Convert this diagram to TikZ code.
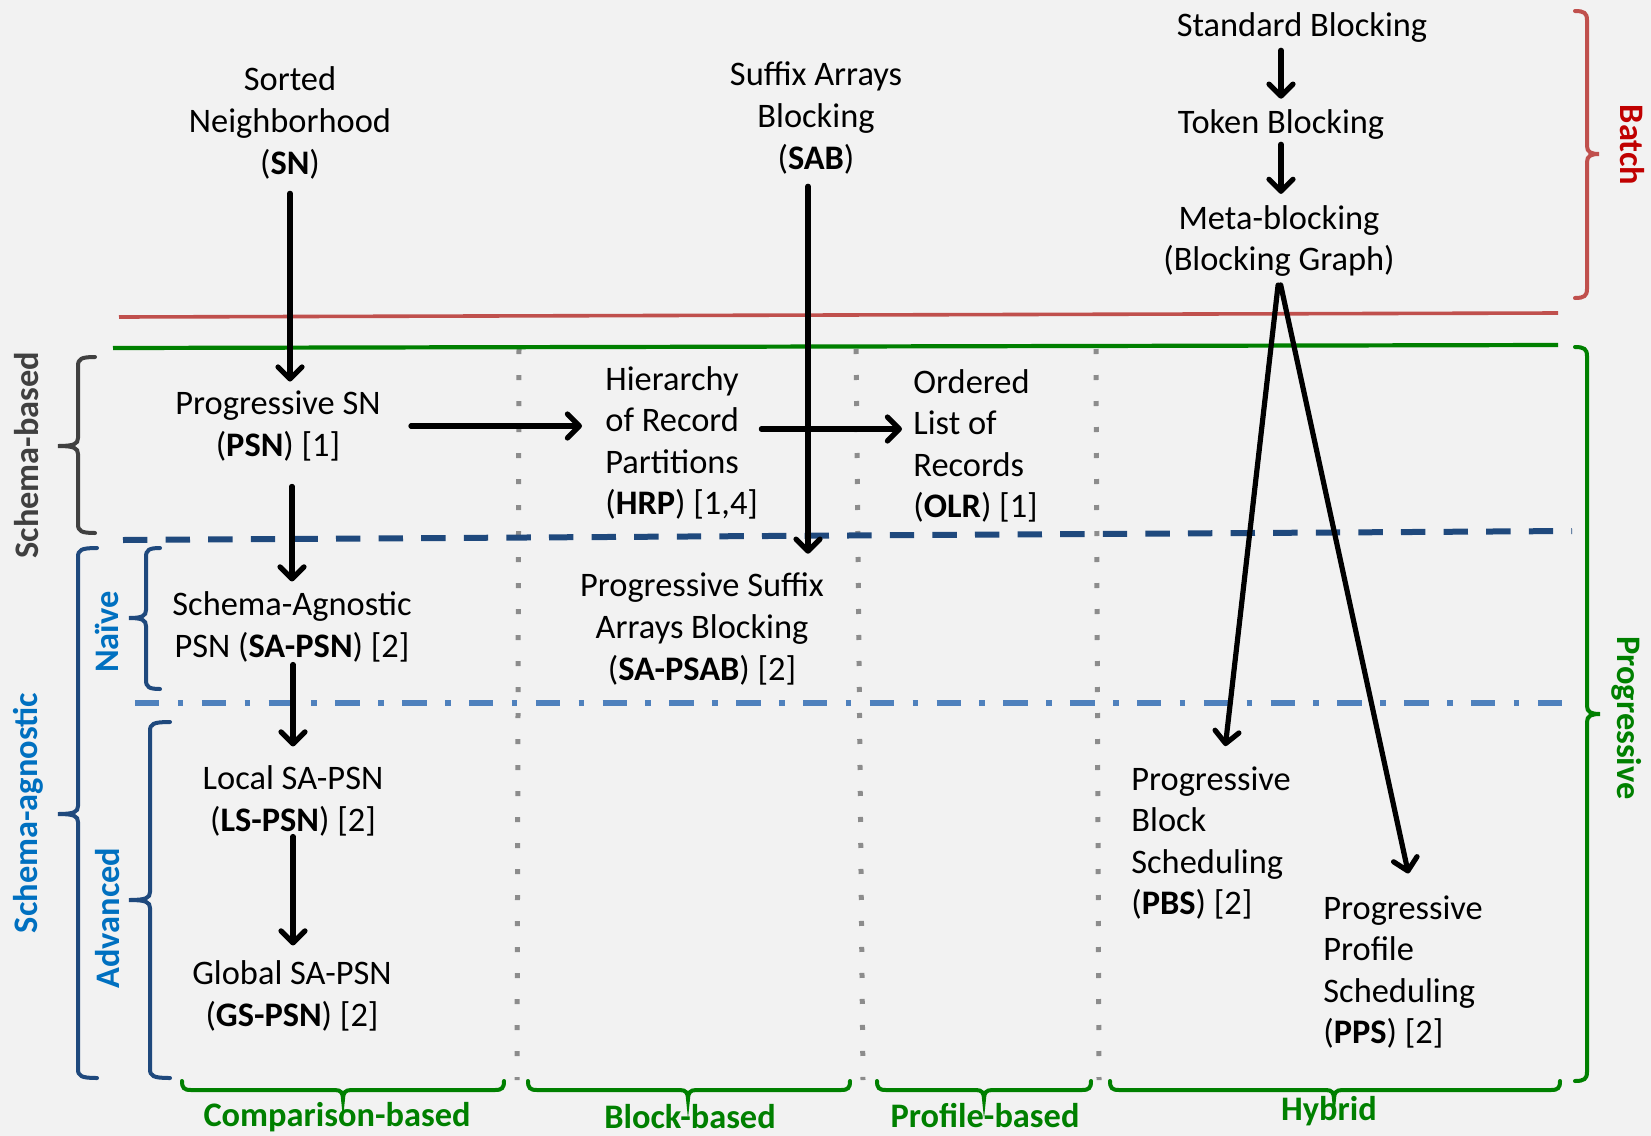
\documentclass[tikz,border=0pt]{standalone}
\usepackage{fontspec}
\setmainfont{Carlito}
\usetikzlibrary{arrows.meta}

\definecolor{bgcol}{HTML}{F2F2F2}
\definecolor{batchline}{HTML}{C0504D}
\definecolor{batchtxt}{HTML}{C00000}
\definecolor{progreen}{HTML}{008000}
\definecolor{navyline}{HTML}{1F497D}
\definecolor{lightnavy}{HTML}{4F81BD}
\definecolor{agblue}{HTML}{0070C0}
\definecolor{sbgray}{HTML}{404040}
\definecolor{dotgray}{HTML}{8C8C8C}

% brace paths: vertical line with curled ends and a pointed tip
% #1 x, #2 top y, #3 tip y, #4 bottom y, #5 tip x, #6 end x
\newcommand\leftbracepath[6]{(#6,#2) .. controls ({#1+3},#2) and (#1,{#2+2}) .. (#1,{#2+9}) -- (#1,{#3-8}) .. controls (#1,{#3-2}) and ({#1-4},#3) .. (#5,#3) .. controls ({#1-4},#3) and (#1,{#3+2}) .. (#1,{#3+8}) -- (#1,{#4-9}) .. controls (#1,{#4-2}) and ({#1+3},#4) .. (#6,#4)}
\newcommand\rightbracepath[6]{(#6,#2) .. controls ({#1-3},#2) and (#1,{#2+2}) .. (#1,{#2+9}) -- (#1,{#3-8}) .. controls (#1,{#3-2}) and ({#1+4},#3) .. (#5,#3) .. controls ({#1+4},#3) and (#1,{#3+2}) .. (#1,{#3+8}) -- (#1,{#4-9}) .. controls (#1,{#4-2}) and ({#1-3},#4) .. (#6,#4)}
% #1 left x, #2 tip x, #3 right x, #4 line y, #5 end y, #6 tip y
\newcommand\bottombracepath[6]{(#1,#5) .. controls (#1,{#4-2}) and ({#1+2},#4) .. ({#1+9},#4) -- ({#2-8},#4) .. controls ({#2-2},#4) and (#2,{#4+3}) .. (#2,#6) .. controls (#2,{#4+3}) and ({#2+2},#4) .. ({#2+8},#4) -- ({#3-9},#4) .. controls ({#3-2},#4) and (#3,{#4-2}) .. (#3,#5)}

\begin{document}
\begin{tikzpicture}[x=0.5pt,y=-0.5pt,
  txt/.style={font=\fontsize{17.2}{20.8}\selectfont, inner sep=0pt, align=center, yshift=-1.5pt},
  ltxt/.style={txt, align=left, anchor=west},
  lab/.style={font=\fontsize{17.2}{20.8}\selectfont\bfseries, inner sep=0pt},
  arr/.style={line width=2.6pt, line cap=round, -{Straight Barb[length=6pt,width=12pt,round]}},
  brace/.style={line width=2pt, line cap=round},
  colsep/.style={dotgray, line width=2.5pt, dash pattern=on 2.5pt off 10.5pt}]

\fill[bgcol] (0,0) rectangle (1651,1136);
\useasboundingbox (0,0) rectangle (1651,1136);

% column separators
\draw[colsep] (519,349) -- (517,1080);
\draw[colsep] (856,349) -- (863,1080);
\draw[colsep] (1096,349) -- (1099,1080);

% batch / progressive boundaries
\draw[batchline, line width=1.8pt] (119,317) -- (1558,313);
\draw[progreen, line width=2.1pt] (113,348) -- (1558,345);

% schema-based / schema-agnostic boundary
\draw[navyline, line width=3pt, dash pattern=on 12.2pt off 9.1pt] (123,540) -- (1572,531);
% naive / advanced boundary
\draw[lightnavy, line width=2.7pt, dash pattern=on 12.2pt off 9.2pt on 2.8pt off 9.2pt] (135,703) -- (1566,703);

% nodes
\node[txt] (sn) at (290,120) {Sorted\\Neighborhood\\(\textbf{SN})};
\node[txt] (sab) at (816,115) {Suffix Arrays\\Blocking\\(\textbf{SAB})};
\node[txt] (std) at (1302,25) {Standard Blocking};
\node[txt] (tok) at (1281,122) {Token Blocking};
\node[txt] (meta) at (1279,238) {Meta-blocking\\(Blocking Graph)};

\node[txt] (psn) at (278,423) {Progressive SN\\(\textbf{PSN}) [1]};
\node[ltxt] (hrp) at (605,440) {Hierarchy\\of Record\\Partitions\\(\textbf{HRP}) [1,4]};
\node[ltxt] (olr) at (913,443) {Ordered\\List of\\Records\\(\textbf{OLR}) [1]};

\node[txt] (sapsn) at (292,624) {Schema-Agnostic\\PSN (\textbf{SA-PSN}) [2]};
\node[txt] (sapsab) at (702,626) {Progressive Suffix\\Arrays Blocking\\(\textbf{SA-PSAB}) [2]};

\node[txt] (lspsn) at (293,798) {Local SA-PSN\\(\textbf{LS-PSN}) [2]};
\node[txt] (gspsn) at (292,993) {Global SA-PSN\\(\textbf{GS-PSN}) [2]};
\node[ltxt] (pbs) at (1131,840) {Progressive\\Block\\Scheduling\\(\textbf{PBS}) [2]};
\node[ltxt] (pps) at (1323,969) {Progressive\\Profile\\Scheduling\\(\textbf{PPS}) [2]};

% arrows
\draw[arr, shorten <=7pt, shorten >=4.5pt] (sn.south) -- (sn.south |- psn.north);
\draw[arr, shorten <=12.5pt, shorten >=5pt] (sapsn.north |- psn.south) -- (sapsn.north);
\draw[arr, shorten <=1pt, shorten >=9.5pt] (lspsn.north |- sapsn.south) -- (lspsn.north);
\draw[arr, shorten >=7.5pt] (lspsn.south) -- (lspsn.south |- gspsn.north);
\draw[arr, shorten <=15pt, shorten >=11.5pt] (psn.east) -- (psn.east -| hrp.west);
\draw[arr, shorten <=1.5pt, shorten >=5.5pt] ([yshift=7pt]hrp.east) -- ([yshift=7pt]hrp.east -| olr.west);
\draw[arr, shorten <=6pt, shorten >=9.5pt] ([xshift=-4pt]sab.south) -- ([xshift=-4pt]sab.south |- sapsab.north);
\draw[arr, shorten <=3.5pt, shorten >=5.5pt] (std.south -| tok.north) -- (tok.north);
\draw[arr, shorten <=2pt, shorten >=5.5pt] (tok.south) -- (tok.south |- meta.north);
\draw[arr, shorten <=4pt, shorten >=10pt] (meta.south) -- ([xshift=6pt]pbs.north);
\draw[arr, shorten <=4pt, shorten >=11pt] (meta.south) -- ([xshift=5pt]pps.north);

% braces
\draw[brace, batchline] \rightbracepath{1587}{11}{154}{298}{1599}{1575};
\draw[brace, progreen] \rightbracepath{1587}{347}{714}{1081}{1600}{1575};
\draw[brace, sbgray] \leftbracepath{78}{357}{446}{533}{58}{95};
\draw[brace, navyline] \leftbracepath{78}{548}{814}{1078}{58}{97};
\draw[brace, navyline] \leftbracepath{146}{548}{618}{689}{129}{160};
\draw[brace, navyline] \leftbracepath{150}{722}{900}{1078}{129}{170};

\draw[brace, progreen] \bottombracepath{182}{343}{504}{1090}{1081}{1099};
\draw[brace, progreen] \bottombracepath{528}{688}{850}{1090}{1081}{1099};
\draw[brace, progreen] \bottombracepath{877}{984}{1091}{1090}{1081}{1099};
\draw[brace, progreen] \bottombracepath{1110}{1334}{1560}{1090}{1081}{1099};

% brace labels
\node[lab, batchtxt, rotate=-90] (batch) at (1632,145) {Batch};
\node[lab, progreen, rotate=-90] (prog) at (1627,718) {Progressive};
\node[lab, sbgray, rotate=90] (sbased) at (27,455) {Schema-based};
\node[lab, agblue, rotate=90] (sagn) at (28,813) {Schema-agnostic};
\node[lab, agblue, rotate=90] (naive) at (107,632) {Naïve};
\node[lab, agblue, rotate=90] (adv) at (108,918) {Advanced};

\node[lab, progreen] (cmp) at (337,1117) {Comparison-based};
\node[lab, progreen] (blk) at (690,1117) {Block-based};
\node[lab, progreen] (prf) at (985,1116) {Profile-based};
\node[lab, progreen] (hyb) at (1329,1111) {Hybrid};
\end{tikzpicture}
\end{document}
